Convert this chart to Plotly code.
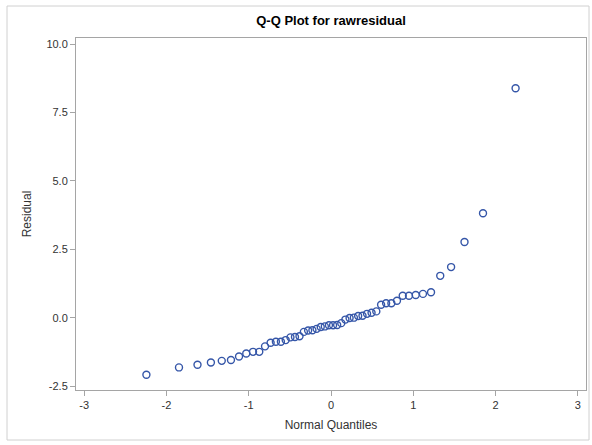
import plotly.graph_objects as go

# Normal quantiles (x) and residuals (y)
normal_quantiles = [-2.244, -1.848, -1.623, -1.460, -1.328, -1.216, -1.118, -1.030, -0.948, -0.872,
                    -0.802, -0.734, -0.670, -0.609, -0.551, -0.493, -0.438, -0.383, -0.330, -0.278,
                    -0.226, -0.175, -0.125, -0.075, -0.025, 0.025, 0.075, 0.125, 0.175, 0.226,
                    0.278, 0.330, 0.383, 0.438, 0.493, 0.551, 0.609, 0.670, 0.734, 0.802,
                    0.872, 0.948, 1.030, 1.118, 1.216, 1.328, 1.460, 1.623, 1.848, 2.244]
residuals = [-2.09, -1.82, -1.72, -1.64, -1.58, -1.55, -1.42, -1.31, -1.25, -1.25,
             -1.05, -0.92, -0.88, -0.88, -0.82, -0.72, -0.71, -0.68, -0.52, -0.47,
             -0.46, -0.41, -0.34, -0.32, -0.28, -0.28, -0.27, -0.20, -0.07, -0.01,
             0.00, 0.06, 0.07, 0.14, 0.18, 0.23, 0.47, 0.53, 0.53, 0.62,
             0.80, 0.80, 0.83, 0.87, 0.93, 1.53, 1.85, 2.77, 3.82, 8.39]
x_ticks = [-3, -2, -1, 0, 1, 2, 3]
y_ticks = [-2.5, 0.0, 2.5, 5.0, 7.5, 10.0]
y_tick_labels = ["-2.5", "0.0", "2.5", "5.0", "7.5", "10.0"]

FONT = "Liberation Sans, Arial, sans-serif"
AXIS_COLOR = "#A5A5A5"
TEXT_COLOR = "#333333"

fig = go.Figure(go.Scatter(
    x=normal_quantiles, y=residuals, mode="markers",
    marker=dict(symbol="circle-open", size=7, color="#3556A8", line=dict(width=1.4, color="#3556A8")),
    showlegend=False, hoverinfo="x+y",
))

fig.update_layout(
    width=592, height=445,
    margin=dict(l=76, r=6, t=38, b=55),
    paper_bgcolor="white", plot_bgcolor="white",
    font=dict(family=FONT, size=11, color=TEXT_COLOR),
    title=dict(text="<b>Q-Q Plot for rawresidual</b>", x=(331) / 592, xanchor="center",
               y=1 - 20 / 445, yanchor="middle", font=dict(family=FONT, size=13, color="black")),
    xaxis=dict(range=[-3.1, 3.1], tickvals=x_ticks, ticktext=[str(v) for v in x_ticks],
               showgrid=False, zeroline=False, showline=True, mirror=True,
               linecolor=AXIS_COLOR, linewidth=1, ticks="outside", ticklen=5,
               tickcolor=AXIS_COLOR, tickfont=dict(size=11, color=TEXT_COLOR),
               title=dict(text="Normal Quantiles", font=dict(size=12, color=TEXT_COLOR), standoff=10)),
    yaxis=dict(range=[-2.646, 10.23], tickvals=y_ticks, ticktext=y_tick_labels,
               showgrid=False, zeroline=False, showline=True, mirror=True,
               linecolor=AXIS_COLOR, linewidth=1, ticks="outside", ticklen=5,
               tickcolor=AXIS_COLOR, tickfont=dict(size=11, color=TEXT_COLOR),
               title=dict(text="Residual", font=dict(size=12, color=TEXT_COLOR), standoff=12)),
    shapes=[dict(type="rect", xref="paper", yref="paper",
                 x0=(7 - 76) / 510, x1=(589 - 76) / 510,
                 y0=(390 - 440) / 352, y1=(390 - 6) / 352,
                 line=dict(color="#D0D0D0", width=1), fillcolor="rgba(0,0,0,0)", layer="below")],
)

fig.write_html("out.html")
